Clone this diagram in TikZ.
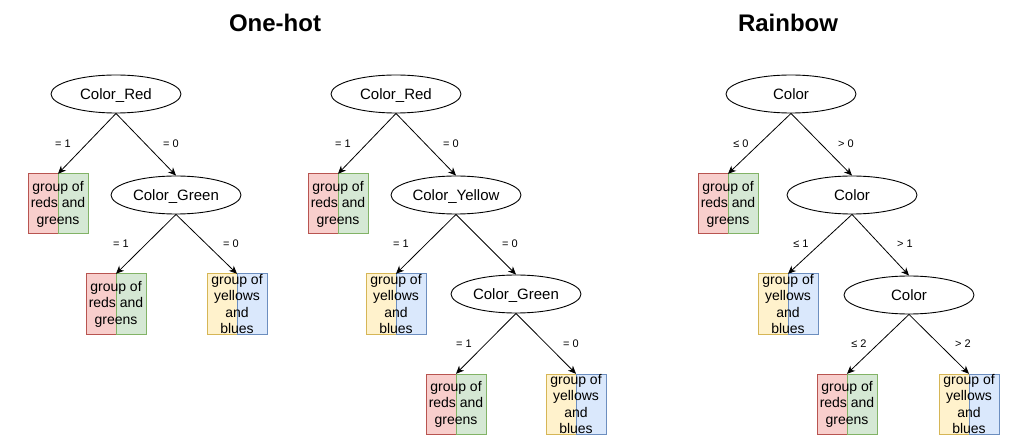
\documentclass[tikz,border=0pt]{standalone}
\usepackage{fontspec}
\setmainfont{Liberation Sans}
\usetikzlibrary{arrows.meta,shapes.geometric}
\definecolor{rfill}{HTML}{F8CECC}
\definecolor{rline}{HTML}{B85450}
\definecolor{gfill}{HTML}{D5E8D4}
\definecolor{gline}{HTML}{82B366}
\definecolor{yfill}{HTML}{FFF2CC}
\definecolor{yline}{HTML}{D6B656}
\definecolor{bfill}{HTML}{DAE8FC}
\definecolor{bline}{HTML}{6C8EBF}
\tikzset{
  dec/.style={ellipse, draw, line width=0.9pt, minimum width=130pt, minimum height=38pt,
    inner sep=0pt, text height=10.7pt, text depth=0pt, font=\fontsize{15}{18}\selectfont},
  leafbase/.style={rectangle, minimum width=60pt, minimum height=60pt, inner sep=0pt},
  leaftxt/.style={align=center, inner sep=0pt, font=\fontsize{14}{16.5}\selectfont},
  lbl/.style={inner sep=0pt, text height=7.9pt, text depth=0pt, font=\fontsize{11}{13}\selectfont},
  edge/.style={draw, line width=0.8pt, -{Stealth[length=8pt,width=7pt,inset=2.5pt]}},
  ttl/.style={inner sep=0pt, font=\bfseries\fontsize{24}{28}\selectfont},
  halfbox/.style={line width=1pt}
}
\newcommand\myrg[3]{%
  \filldraw[halfbox, fill=rfill, draw=rline] (#2-30,#3-30) rectangle (#2,#3+30);
  \filldraw[halfbox, fill=gfill, draw=gline] (#2,#3-30) rectangle (#2+30,#3+30);
  \node[leafbase] (#1) at (#2,#3) {};
  \node[leaftxt] (#1t) at (#1.center) {group of\\reds and\\greens};}
\newcommand\myyb[3]{%
  \filldraw[halfbox, fill=yfill, draw=yline] (#2-30,#3-30) rectangle (#2,#3+30);
  \filldraw[halfbox, fill=bfill, draw=bline] (#2,#3-30) rectangle (#2+30,#3+30);
  \node[leafbase] (#1) at (#2,#3) {};
  \node[leaftxt] (#1t) at (#1.center) {group of\\yellows\\and\\blues};}
\begin{document}
\begin{tikzpicture}[x=1pt,y=-1pt]
\useasboundingbox (0,0) rectangle (1009,438);
\node[ttl] (t1) at (275,23) {One-hot};
\node[ttl] (t2) at (788,23) {Rainbow};

% Tree 1
\node[dec] (R1) at (116,94) {Color\_Red};
\myrg{L1a}{58}{204}
\node[dec] (G1) at (176,195) {Color\_Green};
\myrg{L1b}{116}{304}
\myyb{L1c}{237}{304}
\draw[edge] (R1.south) -- (L1a.north);
\draw[edge] (R1.south) -- (G1.north);
\draw[edge] (G1.south) -- (L1b.north);
\draw[edge] (G1.south) -- (L1c.north);
\node[lbl] (e1) at (63,144) {= 1};
\node[lbl] (e2) at (171,144) {= 0};
\node[lbl] (e3) at (121,244) {= 1};
\node[lbl] (e4) at (231,244) {= 0};

% Tree 2
\node[dec] (R2) at (396,94) {Color\_Red};
\myrg{L2a}{338}{204}
\node[dec] (Y2) at (456,195) {Color\_Yellow};
\myyb{L2b}{396}{304}
\node[dec] (G2) at (516,294) {Color\_Green};
\myrg{L2c}{456}{404}
\myyb{L2d}{576}{404}
\draw[edge] (R2.south) -- (L2a.north);
\draw[edge] (R2.south) -- (Y2.north);
\draw[edge] (Y2.south) -- (L2b.north);
\draw[edge] (Y2.south) -- (G2.north);
\draw[edge] (G2.south) -- (L2c.north);
\draw[edge] (G2.south) -- (L2d.north);
\node[lbl] (f1) at (343,144) {= 1};
\node[lbl] (f2) at (451,144) {= 0};
\node[lbl] (f3) at (401,244) {= 1};
\node[lbl] (f4) at (510,244) {= 0};
\node[lbl] (f5) at (464,344) {= 1};
\node[lbl] (f6) at (571,344) {= 0};

% Tree 3
\node[dec] (C3a) at (791,94) {Color};
\myrg{L3a}{728}{204}
\node[dec] (C3b) at (852,195) {Color};
\myyb{L3b}{788}{304}
\node[dec] (C3c) at (909,295) {Color};
\myrg{L3c}{847}{404}
\myyb{L3d}{969}{404}
\draw[edge] (C3a.south) -- (L3a.north);
\draw[edge] (C3a.south) -- (C3b.north);
\draw[edge] (C3b.south) -- (L3b.north);
\draw[edge] (C3b.south) -- (C3c.north);
\draw[edge] (C3c.south) -- (L3c.north);
\draw[edge] (C3c.south) -- (L3d.north);
\node[lbl] (g1) at (741,144) {≤ 0};
\node[lbl] (g2) at (846,144) {> 0};
\node[lbl] (g3) at (801,244) {≤ 1};
\node[lbl] (g4) at (905,244) {> 1};
\node[lbl] (g5) at (859,344) {≤ 2};
\node[lbl] (g6) at (963,344) {> 2};
\end{tikzpicture}
\end{document}
